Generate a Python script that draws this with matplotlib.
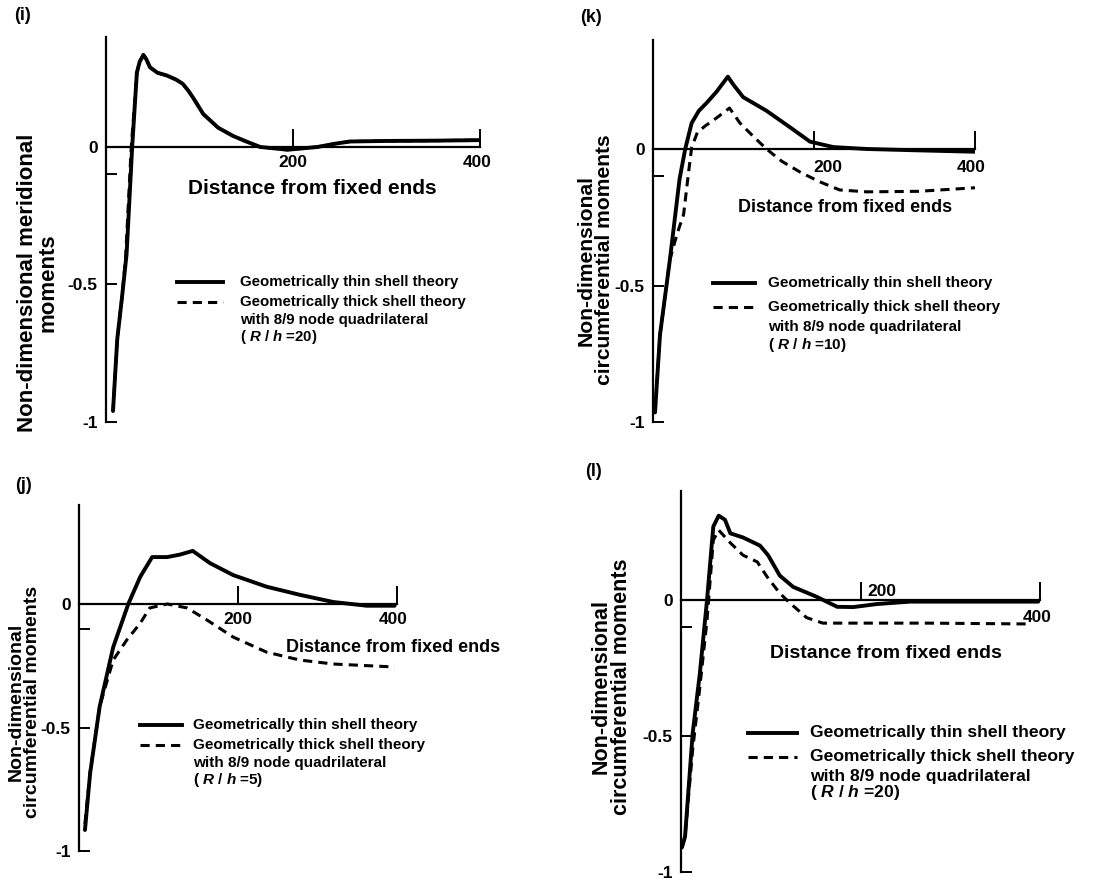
import numpy as np
import matplotlib
matplotlib.use("Agg")
import matplotlib.pyplot as plt
from matplotlib.lines import Line2D

plt.rcParams['font.family'] = ['Liberation Sans', 'DejaVu Sans']
plt.rcParams['font.weight'] = 'bold'
plt.rcParams['mathtext.fontset'] = 'custom'
plt.rcParams['mathtext.rm'] = 'Liberation Sans:bold'
plt.rcParams['mathtext.it'] = 'Liberation Sans:italic:bold'

W, H = 1109, 881

# ---- data ----
# (i) meridional moments, R/h = 20
i_thin_x = [7.5, 12, 17, 22, 28, 33, 36, 40, 43, 47, 55, 65, 75, 82, 88, 93, 104, 120, 136, 150, 165, 180, 194, 210, 226, 245, 261, 300, 350, 400]
i_thin_y = [-0.96, -0.70, -0.55, -0.39, 0.0, 0.27, 0.31, 0.335, 0.32, 0.29, 0.27, 0.26, 0.245, 0.23, 0.205, 0.18, 0.12, 0.07, 0.04, 0.02, 0.0, -0.005, -0.01, -0.005, 0.0, 0.012, 0.02, 0.022, 0.023, 0.025]
i_thick_x = [7.5, 12, 17, 21, 27, 33, 36, 40, 43, 47, 55, 65, 75, 82, 88, 93, 104, 120, 136, 150, 165, 180, 194, 210, 226, 245, 261, 300, 350, 400]
i_thick_y = [-0.96, -0.70, -0.55, -0.40, 0.0, 0.27, 0.31, 0.335, 0.32, 0.29, 0.27, 0.26, 0.245, 0.23, 0.205, 0.18, 0.12, 0.07, 0.04, 0.02, 0.0, -0.005, -0.01, -0.005, 0.0, 0.012, 0.02, 0.022, 0.023, 0.025]

# (k) circumferential moments, R/h = 10
k_thin_x = [2.5, 8.7, 21, 33, 40, 48, 57, 67, 79, 93, 100, 112, 141, 170, 195, 224, 266, 330, 400]
k_thin_y = [-0.965, -0.68, -0.405, -0.11, 0.0, 0.095, 0.14, 0.17, 0.21, 0.265, 0.235, 0.19, 0.14, 0.08, 0.027, 0.007, 0.0, -0.005, -0.01]
k_thick_x = [2.5, 8.7, 21, 30, 38, 44, 48, 55, 65, 75, 95, 108, 125, 141, 160, 183, 207, 232, 266, 330, 400]
k_thick_y = [-0.965, -0.68, -0.405, -0.31, -0.24, -0.09, 0.005, 0.06, 0.085, 0.105, 0.15, 0.095, 0.045, 0.0, -0.045, -0.085, -0.12, -0.15, -0.157, -0.155, -0.142]

# (j) circumferential moments, R/h = 5
j_thin_x = [7.5, 14, 26, 43, 62, 77, 92, 111, 127, 143, 165, 194, 236, 278, 320, 362, 397]
j_thin_y = [-0.915, -0.685, -0.415, -0.175, 0.0, 0.11, 0.19, 0.19, 0.2, 0.215, 0.165, 0.117, 0.07, 0.037, 0.008, -0.007, -0.007]
j_thick_x = [7.5, 14, 26, 43, 60, 77, 89, 111, 136, 161, 194, 236, 278, 320, 397]
j_thick_y = [-0.89, -0.68, -0.415, -0.227, -0.146, -0.078, -0.016, 0.0, -0.016, -0.065, -0.134, -0.195, -0.227, -0.243, -0.255]

# (l) circumferential moments, R/h = 20
l_thin_x = [1, 4.5, 13, 21, 29, 36, 42, 49, 55, 69, 88, 97, 110, 125, 151, 174, 192, 218, 255, 320, 398]
l_thin_y = [-0.91, -0.87, -0.49, -0.27, 0.0, 0.27, 0.31, 0.295, 0.245, 0.23, 0.2, 0.165, 0.09, 0.048, 0.012, -0.025, -0.026, -0.015, -0.006, -0.006, -0.006]
l_thick_x = [1, 4.5, 13, 21, 29, 36, 42, 55, 69, 85, 96, 110, 121, 140, 158, 199, 274, 385]
l_thick_y = [-0.91, -0.87, -0.55, -0.32, -0.074, 0.22, 0.257, 0.21, 0.165, 0.14, 0.085, 0.025, -0.01, -0.065, -0.085, -0.085, -0.085, -0.088]

xticks = [200, 400]
yticks = [-1, -0.5, -0.1, 0]
ytick_labels = ['-1', '-0.5', '', '0']
thin_label = 'Geometrically thin shell theory'
thick_label = ['Geometrically thick shell theory', 'with 8/9 node quadrilateral']

# panel layout in pixels: x of distance 0, x of 400, y of 0, y of -1
panels = [
    dict(tag='(i)', tagpos=(14, 16), x0=106, x400=480, y0=147, ym1=422,
         tx=i_thin_x, ty=i_thin_y, kx=i_thick_x, ky=i_thick_y, rh='20',
         ylabel='Non-dimensional meridional\nmoments', ylpos=(38, 283), ylfs=16,
         dist=(312, 188), distfs=15, leg=(177, 223, 240, 282, 302, 320, 337), legfs=10.8,
         ticklab=[(0, 16), (-3, 16)]),
    dict(tag='(k)', tagpos=(580, 18), x0=653, x400=975, y0=149, ym1=422,
         tx=k_thin_x, ty=k_thin_y, kx=k_thick_x, ky=k_thick_y, rh='10',
         ylabel='Non-dimensional\ncircumferential moments', ylpos=(595, 260), ylfs=15.2,
         dist=(845, 207), distfs=13, leg=(713, 755, 768, 283, 307, 327, 345), legfs=11.0,
         ticklab=[(14, 19), (-4, 19)]),
    dict(tag='(j)', tagpos=(15, 485), x0=79, x400=397, y0=604, ym1=851,
         tx=j_thin_x, ty=j_thin_y, kx=j_thick_x, ky=j_thick_y, rh='5',
         ylabel='Non-dimensional\ncircumferential moments', ylpos=(24, 702), ylfs=14,
         dist=(393, 647), distfs=13, leg=(140, 182, 193, 725, 745, 763, 780), legfs=11.0,
         ticklab=[(0, 16), (-4, 16)]),
    dict(tag='(l)', tagpos=(585, 472), x0=681, x400=1040, y0=600, ym1=872,
         tx=l_thin_x, ty=l_thin_y, kx=l_thick_x, ky=l_thick_y, rh='20',
         ylabel='Non-dimensional\ncircumferential moments', ylpos=(611, 687), ylfs=15.5,
         dist=(886, 653), distfs=14, leg=(748, 797, 810, 733, 757, 777, 793), legfs=12.6,
         ticklab=[(21, -8), (-3, 17)]),
]

fig = plt.figure(figsize=(W / 100, H / 100), dpi=100)


def fx(px):
    return px / W


def fy(py):
    return 1 - py / H


for p in panels:
    scale = p['ym1'] - p['y0']
    ytop = p['y0'] - 0.4 * scale
    ax = fig.add_axes([fx(p['x0']), fy(p['ym1']), (p['x400'] - p['x0']) / W, (p['ym1'] - ytop) / H])
    ax.set_xlim(0, 400)
    ax.set_ylim(-1, 0.4)
    ax.patch.set_visible(False)
    for s in ['top', 'right']:
        ax.spines[s].set_visible(False)
    ax.spines['bottom'].set_position(('data', 0))
    ax.spines['left'].set_linewidth(1.6)
    ax.spines['bottom'].set_linewidth(1.6)

    ax.plot(p['kx'], p['ky'], color='black', lw=2.2, ls=(0, (3, 2)))
    ax.plot(p['tx'], p['ty'], color='black', lw=2.8, solid_capstyle='round')

    ax.set_xticks(xticks)
    ax.set_xticklabels([])
    ax.tick_params(axis='x', direction='in', length=13, width=1.4)
    ax.set_yticks(yticks)
    ax.set_yticklabels(ytick_labels)
    ax.tick_params(axis='y', direction='in', length=8, width=1.4, labelsize=12.5, pad=6)

    for xt, (dx, dy) in zip(xticks, p['ticklab']):
        ax.annotate(str(xt), (xt, 0), xytext=(dx, -dy), textcoords='offset pixels',
                    ha='center', va='center', fontsize=12.5)

    fig.text(fx(p['tagpos'][0]), fy(p['tagpos'][1]), p['tag'], ha='left', va='center', fontsize=13)
    fig.text(fx(p['ylpos'][0]), fy(p['ylpos'][1]), p['ylabel'], rotation=90, ha='center',
             va='center', multialignment='center', fontsize=p['ylfs'], linespacing=0.95)
    fig.text(fx(p['dist'][0]), fy(p['dist'][1]), 'Distance from fixed ends', ha='center',
             va='center', fontsize=p['distfs'])

    lx0, lx1, tx0, l1, l2, l3, l4 = p['leg']
    fig.add_artist(Line2D([fx(lx0), fx(lx1)], [fy(l1), fy(l1)], color='black', lw=2.8,
                          transform=fig.transFigure))
    fig.add_artist(Line2D([fx(lx0), fx(lx1)], [fy(l2), fy(l2)], color='black', lw=2.2,
                          ls=(0, (3, 2)), transform=fig.transFigure))
    fs = p['legfs']
    fig.text(fx(tx0), fy(l1), thin_label, ha='left', va='center', fontsize=fs)
    fig.text(fx(tx0), fy(l2), thick_label[0], ha='left', va='center', fontsize=fs)
    fig.text(fx(tx0), fy(l3), thick_label[1], ha='left', va='center', fontsize=fs)
    fig.text(fx(tx0), fy(l4), '( $R$ / $h$ =' + p['rh'] + ')', ha='left', va='center', fontsize=fs)

fig.savefig('out.png', dpi=100, facecolor='white')
